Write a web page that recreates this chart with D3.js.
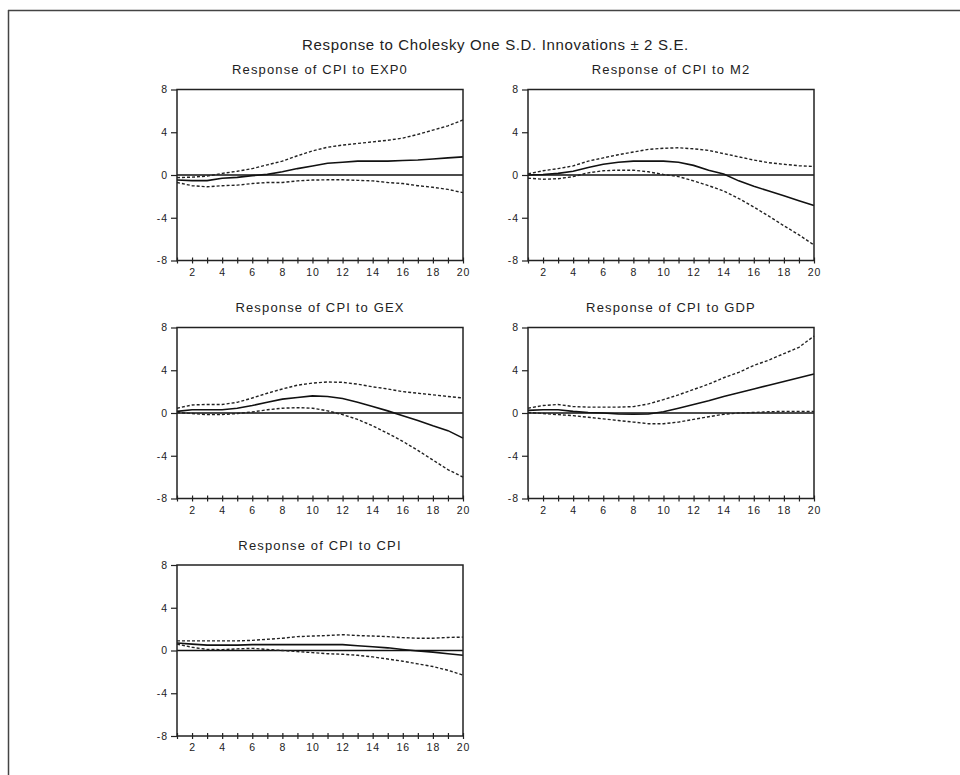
<!DOCTYPE html>
<html lang="en">
<head>
<meta charset="UTF-8">
<title>Response to Cholesky One S.D. Innovations</title>
<script src="https://d3js.org/d3.v7.min.js"></script>
<style>
    body { margin: 0; background: #fff; }
    svg { font-family: "Liberation Sans", Arial, sans-serif; }
    .title { font-size: 15px; letter-spacing: 0.65px; fill: #222; }
    .subtitle { font-size: 13px; letter-spacing: 1.15px; fill: #222; }
    .axis text { font-size: 10.5px; letter-spacing: 1px; fill: #222; }
    .axis path { display: none; }
    .axis line { stroke: #222; stroke-width: 1.2; }
</style>
</head>
<body>
<div id="chart"></div>
<script>
// periods after the shock
const periods = [1, 2, 3, 4, 5, 6, 7, 8, 9, 10, 11, 12, 13, 14, 15, 16, 17, 18, 19, 20];
const xLabels = [2, 4, 6, 8, 10, 12, 14, 16, 18, 20];
const yTicks = [-8, -4, 0, 4, 8];

// CPI to EXP0
const respEXP0 = [-0.47, -0.53, -0.53, -0.3, -0.22, -0.06, 0.06, 0.3, 0.6, 0.85, 1.1, 1.2, 1.3, 1.3, 1.3, 1.35, 1.4, 1.5, 1.6, 1.7];
const upEXP0 = [-0.25, -0.2, -0.1, 0.15, 0.35, 0.6, 0.95, 1.3, 1.8, 2.25, 2.6, 2.8, 2.95, 3.1, 3.25, 3.45, 3.8, 4.2, 4.6, 5.15];
const loEXP0 = [-0.7, -1.0, -1.1, -1.0, -0.95, -0.8, -0.7, -0.7, -0.55, -0.47, -0.45, -0.45, -0.5, -0.55, -0.7, -0.8, -1.0, -1.15, -1.35, -1.65];

// CPI to M2
const respM2 = [0, 0.05, 0.15, 0.35, 0.7, 1.0, 1.2, 1.3, 1.3, 1.3, 1.2, 0.9, 0.45, 0.1, -0.55, -1.05, -1.5, -1.95, -2.4, -2.85];
const upM2 = [0.1, 0.4, 0.6, 0.85, 1.3, 1.6, 1.9, 2.15, 2.4, 2.5, 2.55, 2.45, 2.3, 2.0, 1.7, 1.4, 1.15, 1.0, 0.87, 0.8];
const loM2 = [-0.3, -0.4, -0.35, -0.15, 0.2, 0.4, 0.45, 0.45, 0.3, 0.05, -0.15, -0.55, -1.0, -1.5, -2.2, -3.0, -3.85, -4.75, -5.6, -6.55];

// CPI to GEX
const respGEX = [0.15, 0.3, 0.3, 0.3, 0.45, 0.7, 1.0, 1.3, 1.45, 1.6, 1.55, 1.35, 1.0, 0.6, 0.2, -0.25, -0.7, -1.2, -1.65, -2.35];
const upGEX = [0.45, 0.75, 0.8, 0.8, 1.0, 1.4, 1.85, 2.25, 2.6, 2.8, 2.9, 2.87, 2.7, 2.45, 2.25, 2.0, 1.85, 1.7, 1.55, 1.4];
const loGEX = [0.05, -0.05, -0.15, -0.15, -0.05, 0.1, 0.3, 0.45, 0.5, 0.45, 0.2, -0.15, -0.6, -1.2, -1.9, -2.65, -3.5, -4.4, -5.3, -6.0];

// CPI to GDP
const respGDP = [0.25, 0.3, 0.3, 0.15, 0.05, 0, -0.1, -0.12, -0.1, 0.12, 0.45, 0.8, 1.15, 1.55, 1.9, 2.25, 2.6, 2.95, 3.3, 3.65];
const upGDP = [0.45, 0.7, 0.8, 0.6, 0.55, 0.55, 0.55, 0.6, 0.85, 1.25, 1.7, 2.2, 2.7, 3.3, 3.8, 4.45, 4.95, 5.55, 6.15, 7.2];
const loGDP = [0.05, -0.05, -0.15, -0.25, -0.4, -0.55, -0.7, -0.85, -1.0, -1.0, -0.85, -0.6, -0.35, -0.12, 0, 0.05, 0.12, 0.15, 0.15, 0.15];

// CPI to CPI
const respCPI = [0.7, 0.6, 0.5, 0.5, 0.5, 0.55, 0.55, 0.55, 0.55, 0.55, 0.55, 0.55, 0.45, 0.35, 0.25, 0.1, -0.05, -0.15, -0.3, -0.45];
const upCPI = [0.9, 0.9, 0.9, 0.9, 0.9, 0.95, 1.05, 1.15, 1.3, 1.35, 1.4, 1.48, 1.4, 1.35, 1.3, 1.2, 1.15, 1.15, 1.22, 1.25];
const loCPI = [0.6, 0.3, 0.1, 0.08, 0.15, 0.2, 0.1, 0, -0.1, -0.2, -0.3, -0.35, -0.45, -0.6, -0.8, -1.0, -1.25, -1.5, -1.85, -2.3];

const panels = [
    { title: "Response of CPI to EXP0", resp: respEXP0, up: upEXP0, lo: loEXP0 },
    { title: "Response of CPI to M2", resp: respM2, up: upM2, lo: loM2 },
    { title: "Response of CPI to GEX", resp: respGEX, up: upGEX, lo: loGEX },
    { title: "Response of CPI to GDP", resp: respGDP, up: upGDP, lo: loGDP },
    { title: "Response of CPI to CPI", resp: respCPI, up: upCPI, lo: loCPI }
];

const width = 960, height = 775;
const colX = [177, 528], rowY = [89.5, 327.5, 565];
const pw = 286, ph = 171;

const svg = d3.select("#chart").append("svg").attr("width", width).attr("height", height);

// outer frame (only top and left edges show)
svg.append("line").attr("x1", 8).attr("x2", width).attr("y1", 10.5).attr("y2", 10.5)
    .attr("stroke", "#444").attr("stroke-width", 1.5);
svg.append("line").attr("x1", 8.5).attr("x2", 8.5).attr("y1", 10).attr("y2", height)
    .attr("stroke", "#444").attr("stroke-width", 1.5);

svg.append("text").attr("class", "title")
    .attr("x", (colX[0] + colX[1] + pw) / 2).attr("y", 50)
    .attr("text-anchor", "middle")
    .text("Response to Cholesky One S.D. Innovations \u00B1 2 S.E.");

const x = d3.scaleLinear().domain([1, 20]).range([0, pw]);
const y = d3.scaleLinear().domain([-8, 8]).range([ph, 0]);

panels.forEach((p, i) => {
    const g = svg.append("g")
        .attr("transform", `translate(${colX[i % 2]},${rowY[Math.floor(i / 2)]})`);

    g.append("text").attr("class", "subtitle")
        .attr("x", pw / 2).attr("y", -15.5)
        .attr("text-anchor", "middle")
        .text(p.title);

    // zero line
    g.append("line").attr("x1", 0).attr("x2", pw).attr("y1", y(0)).attr("y2", y(0))
        .attr("stroke", "#111").attr("stroke-width", 1.5);

    const line = d3.line().x((d, k) => x(periods[k])).y(d => y(d));
    g.append("path").datum(p.up).attr("d", line)
        .attr("fill", "none").attr("stroke", "#222").attr("stroke-width", 1.4)
        .attr("stroke-dasharray", "3,2");
    g.append("path").datum(p.lo).attr("d", line)
        .attr("fill", "none").attr("stroke", "#222").attr("stroke-width", 1.4)
        .attr("stroke-dasharray", "3,2");
    g.append("path").datum(p.resp).attr("d", line)
        .attr("fill", "none").attr("stroke", "#111").attr("stroke-width", 1.6);

    // axes (plain hyphen for negatives, as in the original)
    g.append("g").attr("class", "axis")
        .call(d3.axisLeft(y).tickValues(yTicks).tickSize(6).tickPadding(3).tickFormat(d => String(d)));
    const xa = g.append("g").attr("class", "axis")
        .attr("transform", `translate(0,${ph})`)
        .call(d3.axisBottom(x).tickValues(periods).tickSize(3).tickPadding(5)
            .tickFormat(d => xLabels.includes(d) ? d : ""));
    xa.selectAll(".tick line").attr("y1", -3);

    // plot box
    g.append("rect").attr("x", 0).attr("y", 0).attr("width", pw).attr("height", ph)
        .attr("fill", "none").attr("stroke", "#222").attr("stroke-width", 1.5);
});
</script>
</body>
</html>
